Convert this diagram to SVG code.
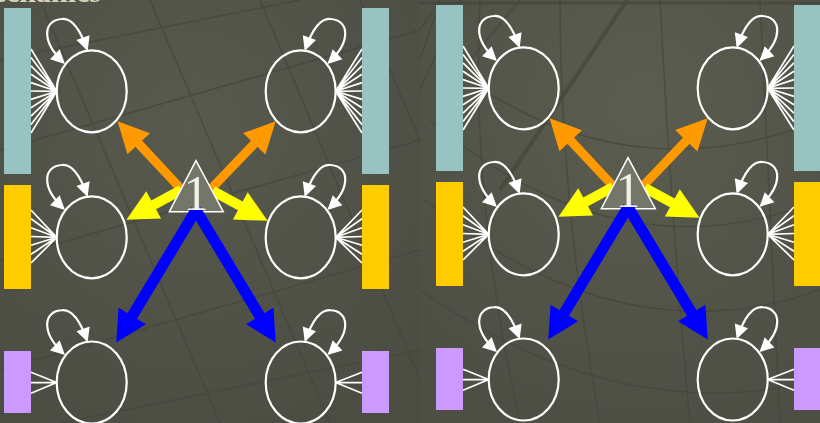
<svg xmlns="http://www.w3.org/2000/svg" xmlns:xlink="http://www.w3.org/1999/xlink" width="820" height="423" viewBox="0 0 820 423">
<defs>
  <radialGradient id="bgL" cx="0.45" cy="0.3" r="0.8">
    <stop offset="0" stop-color="#585a4e"/>
    <stop offset="1" stop-color="#4b4c42"/>
  </radialGradient>
  <radialGradient id="bgR" cx="0.55" cy="0.25" r="0.8">
    <stop offset="0" stop-color="#5b5d50"/>
    <stop offset="1" stop-color="#4d4e44"/>
  </radialGradient>
  <marker id="mO" markerUnits="userSpaceOnUse" markerWidth="32" markerHeight="31" refX="0.5" refY="15.5" orient="auto" overflow="visible">
    <path d="M0,0 L31,15.5 L0,31 z" fill="#ff9900"/>
  </marker>
  <marker id="mY" markerUnits="userSpaceOnUse" markerWidth="32" markerHeight="31" refX="0.5" refY="15.5" orient="auto" overflow="visible">
    <path d="M0,0 L31,15.5 L0,31 z" fill="#ffff00"/>
  </marker>
  <marker id="mB" markerUnits="userSpaceOnUse" markerWidth="32" markerHeight="32" refX="0.5" refY="16" orient="auto" overflow="visible">
    <path d="M0,0 L31,16 L0,32 z" fill="#0000ff"/>
  </marker>
  <marker id="mW" markerUnits="userSpaceOnUse" markerWidth="14" markerHeight="14" refX="12" refY="7" orient="auto-start-reverse" overflow="visible">
    <path d="M0,0 L14,7 L0,14 z" fill="#ffffff"/>
  </marker>
  <path id="loopL" d="M-28.2,-28.8 C-51.7,-51.3 -47.7,-71.3 -29.7,-72.3 C-19.7,-73.3 -12,-63 -4.7,-42.3"/>
</defs>
<style>
  .st{fill:none;stroke:#ffffff;stroke-width:2.2}
  .fan{fill:none;stroke:#ffffff;stroke-width:1.7}
  .loop{fill:none;stroke:#ffffff;stroke-width:2.2;marker-start:url(#mW);marker-end:url(#mW)}
  .teal{fill:#99c3c1}
  .gold{fill:#ffcc00}
  .lilac{fill:#cc99ff}
  .tri{fill:#75766a;stroke:#ffffff;stroke-width:1.5}
  .num{font-family:"Liberation Serif","DejaVu Serif",serif;font-size:50px;fill:#f2f2ea;text-anchor:middle}
  .ao{fill:none;stroke:#ff9900;stroke-width:9;marker-end:url(#mO)}
  .ay{fill:none;stroke:#ffff00;stroke-width:10;marker-end:url(#mY)}
  .ab{fill:none;stroke:#0000ff;stroke-width:11;marker-end:url(#mB)}
  .grid{fill:none;stroke:#45463c;stroke-width:1.5;opacity:0.7}
  .title{font-family:"Liberation Serif","DejaVu Serif",serif;font-size:30px;font-weight:bold;fill:#d8d3bc}
</style>

<!-- background -->
<rect x="0" y="0" width="420" height="423" fill="url(#bgL)"/>
<rect x="420" y="0" width="400" height="423" fill="url(#bgR)"/>
<g id="background-grid">
  <path class="grid" d="M0,60 L300,0 M0,150 L420,30 M0,260 L420,140 M0,370 L420,250 M60,423 L420,350 M40,0 L220,423 M150,0 L330,423 M260,0 L420,380 M360,0 L420,140"/>
  <path class="grid" d="M627,0 L500,190" style="stroke-width:4"/>
  <path class="grid" d="M420,3 L820,3" style="stroke-width:3"/>
  <path class="grid" d="M440,60 Q620,200 820,120 M430,120 Q620,280 820,200 M425,200 Q620,360 820,290 M420,290 Q620,430 820,380"/>
  <path class="grid" d="M480,0 Q470,200 520,423 M560,0 Q560,200 600,423 M660,0 Q670,200 690,423 M760,0 Q770,200 780,423"/>
  <path class="grid" d="M440,0 L420,30 M440,0 L420,60 M460,0 L420,90 M520,0 L470,60"/>
</g>
<text class="title" x="101" y="1.5" text-anchor="end">Mechanics</text>

<!-- ================= LEFT PANEL ================= -->
<g id="panel-left">
  <g id="connectors-left">
    <path class="fan" d="M56.7,91.3 L31,49 M56.7,91.3 L31,57.4 M56.7,91.3 L31,65.8 M56.7,91.3 L31,74.2 M56.7,91.3 L31,82.6 M56.7,91.3 L31,91 M56.7,91.3 L31,99.4 M56.7,91.3 L31,107.8 M56.7,91.3 L31,116.2 M56.7,91.3 L31,124.6 M56.7,91.3 L31,133"/>
    <path class="fan" d="M335.7,91.3 L362,49 M335.7,91.3 L362,57.4 M335.7,91.3 L362,65.8 M335.7,91.3 L362,74.2 M335.7,91.3 L362,82.6 M335.7,91.3 L362,91 M335.7,91.3 L362,99.4 M335.7,91.3 L362,107.8 M335.7,91.3 L362,116.2 M335.7,91.3 L362,124.6 M335.7,91.3 L362,133"/>
    <path class="fan" d="M56.7,237.3 L31,210 M56.7,237.3 L31,218.8 M56.7,237.3 L31,227.7 M56.7,237.3 L31,236.5 M56.7,237.3 L31,245.3 M56.7,237.3 L31,254.2 M56.7,237.3 L31,263"/>
    <path class="fan" d="M335.7,237.3 L362,210 M335.7,237.3 L362,218.8 M335.7,237.3 L362,227.7 M335.7,237.3 L362,236.5 M335.7,237.3 L362,245.3 M335.7,237.3 L362,254.2 M335.7,237.3 L362,263"/>
    <path class="fan" d="M56.7,382.5 L31,372.3 M56.7,382.5 L31,382.7 M56.7,382.5 L31,393.3"/>
    <path class="fan" d="M335.7,382.5 L362,372.3 M335.7,382.5 L362,382.7 M335.7,382.5 L362,393.3"/>
    <use href="#loopL" class="loop" transform="translate(91.7,91.3)"/>
    <use href="#loopL" class="loop" transform="translate(91.7,237.3)"/>
    <use href="#loopL" class="loop" transform="translate(91.7,382.5)"/>
    <use href="#loopL" class="loop" transform="translate(300.7,91.3) scale(-1,1)"/>
    <use href="#loopL" class="loop" transform="translate(300.7,237.3) scale(-1,1)"/>
    <use href="#loopL" class="loop" transform="translate(300.7,382.5) scale(-1,1)"/>
    <path class="ao" d="M182,190 L138.4,143.4"/>
    <path class="ao" d="M210,190 L254.6,143.4"/>
    <path class="ay" d="M181.3,189.8 L153.2,205.1"/>
    <path class="ay" d="M212.7,190.9 L240.8,206.2"/>
  </g>
  <g id="L-obs-teal-1"><rect class="teal" x="4" y="8" width="27" height="166"/></g>
  <g id="L-obs-gold-1"><rect class="gold" x="4" y="185" width="27" height="104"/></g>
  <g id="L-obs-lilac-1"><rect class="lilac" x="4" y="351" width="27" height="62"/></g>
  <g id="L-obs-teal-2"><rect class="teal" x="362" y="8" width="27" height="166"/></g>
  <g id="L-obs-gold-2"><rect class="gold" x="362" y="185" width="27" height="104"/></g>
  <g id="L-obs-lilac-2"><rect class="lilac" x="362" y="351" width="27" height="62"/></g>
  <g id="L-state-a1"><ellipse class="st" cx="91.7" cy="91.3" rx="35" ry="41"/></g>
  <g id="L-state-a2"><ellipse class="st" cx="91.7" cy="237.3" rx="35" ry="41"/></g>
  <g id="L-state-a3"><ellipse class="st" cx="91.7" cy="382.5" rx="35" ry="41"/></g>
  <g id="L-state-b1"><ellipse class="st" cx="300.7" cy="91.3" rx="35" ry="41"/></g>
  <g id="L-state-b2"><ellipse class="st" cx="300.7" cy="237.3" rx="35" ry="41"/></g>
  <g id="L-state-b3"><ellipse class="st" cx="300.7" cy="382.5" rx="35" ry="41"/></g>
  <g id="L-hub">
    <polygon class="tri" points="196,160.7 169.3,211.7 223.3,211.7"/>
  </g>
  <g id="connectors-left-blue">
    <path class="ab" d="M196,210 L132,316.4"/>
    <path class="ab" d="M196,210 L260,316.4"/>
  </g>
  <text class="num" x="196" y="210">1</text>
</g>

<!-- ================= RIGHT PANEL ================= -->
<g id="panel-right" transform="translate(432,-3)">
  <g id="connectors-right">
    <path class="fan" d="M56.7,91.3 L31,49 M56.7,91.3 L31,57.4 M56.7,91.3 L31,65.8 M56.7,91.3 L31,74.2 M56.7,91.3 L31,82.6 M56.7,91.3 L31,91 M56.7,91.3 L31,99.4 M56.7,91.3 L31,107.8 M56.7,91.3 L31,116.2 M56.7,91.3 L31,124.6 M56.7,91.3 L31,133"/>
    <path class="fan" d="M335.7,91.3 L362,49 M335.7,91.3 L362,57.4 M335.7,91.3 L362,65.8 M335.7,91.3 L362,74.2 M335.7,91.3 L362,82.6 M335.7,91.3 L362,91 M335.7,91.3 L362,99.4 M335.7,91.3 L362,107.8 M335.7,91.3 L362,116.2 M335.7,91.3 L362,124.6 M335.7,91.3 L362,133"/>
    <path class="fan" d="M56.7,237.3 L31,210 M56.7,237.3 L31,218.8 M56.7,237.3 L31,227.7 M56.7,237.3 L31,236.5 M56.7,237.3 L31,245.3 M56.7,237.3 L31,254.2 M56.7,237.3 L31,263"/>
    <path class="fan" d="M335.7,237.3 L362,210 M335.7,237.3 L362,218.8 M335.7,237.3 L362,227.7 M335.7,237.3 L362,236.5 M335.7,237.3 L362,245.3 M335.7,237.3 L362,254.2 M335.7,237.3 L362,263"/>
    <path class="fan" d="M56.7,382.5 L31,372.3 M56.7,382.5 L31,382.7 M56.7,382.5 L31,393.3"/>
    <path class="fan" d="M335.7,382.5 L362,372.3 M335.7,382.5 L362,382.7 M335.7,382.5 L362,393.3"/>
    <use href="#loopL" class="loop" transform="translate(91.7,91.3)"/>
    <use href="#loopL" class="loop" transform="translate(91.7,237.3)"/>
    <use href="#loopL" class="loop" transform="translate(91.7,382.5)"/>
    <use href="#loopL" class="loop" transform="translate(300.7,91.3) scale(-1,1)"/>
    <use href="#loopL" class="loop" transform="translate(300.7,237.3) scale(-1,1)"/>
    <use href="#loopL" class="loop" transform="translate(300.7,382.5) scale(-1,1)"/>
    <path class="ao" d="M182,190 L138.4,143.4"/>
    <path class="ao" d="M210,190 L254.6,143.4"/>
    <path class="ay" d="M181.3,189.8 L153.2,205.1"/>
    <path class="ay" d="M212.7,190.9 L240.8,206.2"/>
  </g>
  <g id="R-obs-teal-1"><rect class="teal" x="4" y="8" width="27" height="166"/></g>
  <g id="R-obs-gold-1"><rect class="gold" x="4" y="185" width="27" height="104"/></g>
  <g id="R-obs-lilac-1"><rect class="lilac" x="4" y="351" width="27" height="62"/></g>
  <g id="R-obs-teal-2"><rect class="teal" x="362" y="8" width="27" height="166"/></g>
  <g id="R-obs-gold-2"><rect class="gold" x="362" y="185" width="27" height="104"/></g>
  <g id="R-obs-lilac-2"><rect class="lilac" x="362" y="351" width="27" height="62"/></g>
  <g id="R-state-a1"><ellipse class="st" cx="91.7" cy="91.3" rx="35" ry="41"/></g>
  <g id="R-state-a2"><ellipse class="st" cx="91.7" cy="237.3" rx="35" ry="41"/></g>
  <g id="R-state-a3"><ellipse class="st" cx="91.7" cy="382.5" rx="35" ry="41"/></g>
  <g id="R-state-b1"><ellipse class="st" cx="300.7" cy="91.3" rx="35" ry="41"/></g>
  <g id="R-state-b2"><ellipse class="st" cx="300.7" cy="237.3" rx="35" ry="41"/></g>
  <g id="R-state-b3"><ellipse class="st" cx="300.7" cy="382.5" rx="35" ry="41"/></g>
  <g id="R-hub">
    <polygon class="tri" points="196,160.7 169.3,211.7 223.3,211.7"/>
  </g>
  <g id="connectors-right-blue">
    <path class="ab" d="M196,210 L132,316.4"/>
    <path class="ab" d="M196,210 L260,316.4"/>
  </g>
  <text class="num" x="196" y="210">1</text>
</g>
</svg>
